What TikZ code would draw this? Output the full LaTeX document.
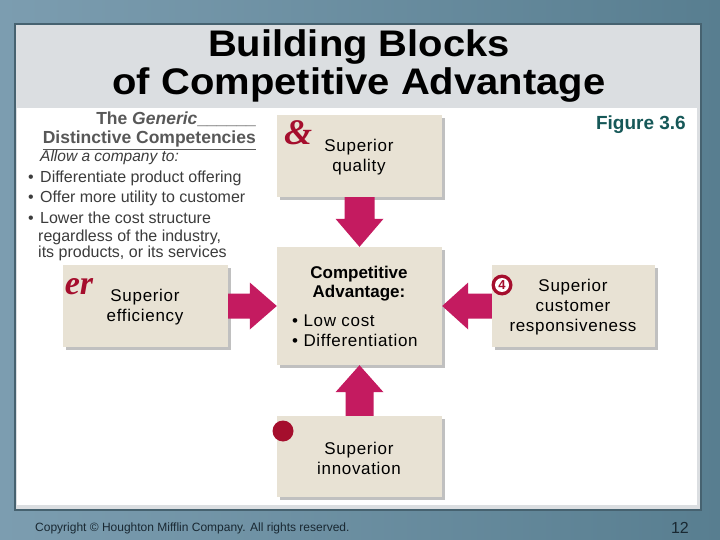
\documentclass[tikz,border=0pt]{standalone}
\usepackage{fontspec}
\setmainfont{Liberation Sans}
\newfontfamily\titlefont[FakeStretch=1.08]{Liberation Sans}
\newfontfamily\boxfont[LetterSpace=4]{Liberation Sans}
\newfontfamily\iconfont{Liberation Serif}
\usetikzlibrary{shadows,calc}
\definecolor{bgA}{RGB}{124,157,176}
\definecolor{bgB}{RGB}{88,126,144}
\definecolor{frame}{RGB}{70,98,112}
\definecolor{panel}{RGB}{219,222,225}
\definecolor{beige}{RGB}{232,226,212}
\definecolor{arrowc}{RGB}{196,27,96}
\definecolor{iconred}{RGB}{165,14,45}
\definecolor{figc}{RGB}{22,88,88}
\definecolor{greytxt}{RGB}{88,88,88}
\definecolor{bodytxt}{RGB}{60,60,60}
\definecolor{foot}{RGB}{25,40,50}
\begin{document}
\begin{tikzpicture}[x=1pt,y=-1pt,
  block/.style={fill=beige, draw=none, inner sep=0pt,
    drop shadow={shadow xshift=3pt,shadow yshift=-3pt,opacity=0.35,fill=black!70}},
  blocktext/.style={align=center, font=\boxfont\fontsize{17}{20}\selectfont, text=black},
  flow/.style={fill=arrowc, draw=none},
  lefttext/.style={anchor=base west, inner sep=0pt, text=bodytxt, font=\fontsize{16}{18}\selectfont},
  icon/.style={text=iconred, inner sep=0pt}]
\useasboundingbox (0,0) rectangle (720,540);
% background
\fill[left color=bgA, right color=bgB] (0,0) rectangle (720,540);
\fill[frame] (14,23) rectangle (702,511);
\fill[panel] (16,25) rectangle (700,509);
\fill[white] (17,108) rectangle (697,505);

% title
\node[anchor=base, inner sep=0pt, font=\titlefont\bfseries\fontsize{37}{40}\selectfont] (title1) at (359,57) {Building Blocks};
\node[anchor=base, inner sep=0pt, font=\titlefont\bfseries\fontsize{37}{40}\selectfont] (title2) at (359,95) {of Competitive Advantage};

% figure label
\node[anchor=base east, inner sep=0pt, text=figc, font=\bfseries\fontsize{19}{22}\selectfont] (fig) at (686,130) {Figure 3.6};

% left text
\node[anchor=base east, inner sep=0pt, text=greytxt, font=\bfseries\fontsize{17.5}{19}\selectfont] (h1) at (256,125) {The \textit{Generic}\_\_\_\_\_\_};
\node[anchor=base east, inner sep=0pt, text=greytxt, font=\bfseries\fontsize{17.5}{19}\selectfont] (h2) at (256,144) {\underline{Distinctive Competencies}};
\node[lefttext, font=\itshape\fontsize{15.5}{18}\selectfont] (l0) at (40,162) {Allow a company to:};
\node[lefttext] (b1) at (28,183) {•};
\node[lefttext] (l1) at (40,183) {Differentiate product offering};
\node[lefttext] (b2) at (28,203) {•};
\node[lefttext] (l2) at (40,203) {Offer more utility to customer};
\node[lefttext] (b3) at (28,223) {•};
\node[lefttext] (l3) at (40,223) {Lower the cost structure};
\node[lefttext] (l4) at (38,241) {regardless of the industry,};
\node[lefttext] (l5) at (38,258) {its products, or its services};

% boxes
\node[block, minimum width=165pt, minimum height=82pt] (q) at (359.5,156) {};
\node[blocktext] (qt) at (359,157) {Superior\\quality};
\node[block, minimum width=165pt, minimum height=82pt] (eff) at (145.5,306) {};
\node[blocktext] (efft) at (145,307) {Superior\\efficiency};
\node[block, minimum width=165pt, minimum height=118pt] (ca) at (359.5,306) {};
\node[block, minimum width=163pt, minimum height=82pt] (resp) at (573.5,306) {};
\node[blocktext] (respt) at (573,307) {Superior\\customer\\responsiveness};
\node[block, minimum width=165pt, minimum height=81pt] (inn) at (359.5,456.5) {};
\node[blocktext] (innt) at (359,458) {Superior\\innovation};

% competitive advantage text
\node[anchor=base, inner sep=0pt, font=\bfseries\fontsize{17}{20}\selectfont] (cat1) at (359,278) {Competitive};
\node[anchor=base, inner sep=0pt, font=\bfseries\fontsize{17}{20}\selectfont] (cat2) at (359,297) {Advantage:};
\node[anchor=base west, inner sep=0pt, font=\boxfont\fontsize{17}{20}\selectfont] (cab1) at (292,326) {• Low cost};
\node[anchor=base west, inner sep=0pt, font=\boxfont\fontsize{17}{20}\selectfont] (cab2) at (292,346) {• Differentiation};

% arrows
\fill[flow] ($(q.south)+(-15,0)$) -- ($(q.south)+(15,0)$) -- ($(ca.north)+(15,-28)$) -- ($(ca.north)+(24,-28)$)
  -- (ca.north) -- ($(ca.north)+(-24,-28)$) -- ($(ca.north)+(-15,-28)$) -- cycle;
\fill[flow] ($(inn.north)+(-14,0)$) -- ($(inn.north)+(14,0)$) -- ($(ca.south)+(14,27)$) -- ($(ca.south)+(24,27)$)
  -- (ca.south) -- ($(ca.south)+(-24,27)$) -- ($(ca.south)+(-14,27)$) -- cycle;
\fill[flow] ($(eff.east)+(0,-12.5)$) -- ($(eff.east)+(0,12.5)$) -- ($(ca.west)+(-27,12.5)$) -- ($(ca.west)+(-27,23.5)$)
  -- (ca.west) -- ($(ca.west)+(-27,-23.5)$) -- ($(ca.west)+(-27,-12.5)$) -- cycle;
\fill[flow] ($(resp.west)+(0,-12.5)$) -- ($(resp.west)+(0,12.5)$) -- ($(ca.east)+(26,12.5)$) -- ($(ca.east)+(26,23.5)$)
  -- (ca.east) -- ($(ca.east)+(26,-23.5)$) -- ($(ca.east)+(26,-12.5)$) -- cycle;

% icons
\node[icon, font=\iconfont\bfseries\itshape\fontsize{36}{36}\selectfont] (ic1) at (298,133) {\&};
\node[icon, font=\iconfont\bfseries\itshape\fontsize{34}{34}\selectfont] (ic2) at (79,287) {er};
\node[circle, fill=iconred, minimum size=21pt, inner sep=0pt] (ic3) at (502,285) {};
\node[circle, fill=white, minimum size=14pt, inner sep=0pt] (ic3w) at (ic3) {};
\node[icon, font=\bfseries\fontsize{13}{13}\selectfont] (ic3n) at (ic3) {4};
\node[circle, fill=iconred, minimum size=21pt, inner sep=0pt] (ic4) at (283,431) {};

% footer
\node[anchor=base west, inner sep=0pt, text=foot, font=\fontsize{12}{14}\selectfont] (copy) at (35,531) {Copyright © Houghton Mifflin Company. All rights reserved.};
\node[anchor=base east, inner sep=0pt, text=foot, font=\fontsize{16}{18}\selectfont] (page) at (689,533) {12};
\end{tikzpicture}
\end{document}
